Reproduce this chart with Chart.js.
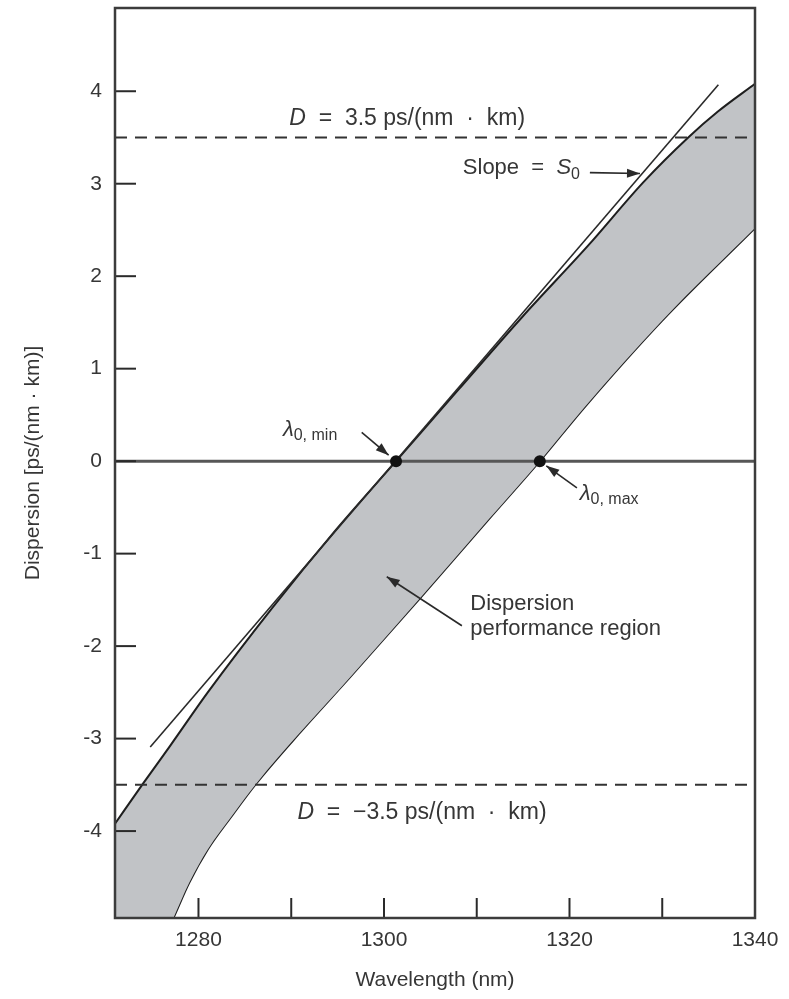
<!DOCTYPE html>
<html>
<head>
<meta charset="utf-8">
<script src="https://cdn.jsdelivr.net/npm/chart.js@4.4.1/dist/chart.umd.min.js"></script>
<style>
  html, body { margin: 0; padding: 0; background: #fff; }
</style>
</head>
<body>
<canvas id="chart" width="789" height="999"></canvas>
<script>
// axis ranges and ticks
const xRange = [1271, 1340];
const yRange = [-4.94, 4.9];
const xTicks = [1280, 1290, 1300, 1310, 1320, 1330, 1340];
const xTickLabels = [1280, 1300, 1320, 1340];
const yTicks = [-4, -3, -2, -1, 0, 1, 2, 3, 4];

// upper edge of the band (lambda0 = min)
const upperLambda = [1271, 1274, 1277, 1281, 1288, 1294.5, 1301.3, 1308, 1315, 1322, 1328, 1332.8, 1336, 1340];
const upperD      = [-3.92, -3.49, -3.07, -2.5, -1.58, -0.78, 0, 0.77, 1.57, 2.33, 3.02, 3.5, 3.78, 4.08];

// lower edge of the band (lambda0 = max)
const lowerLambda = [1271, 1277.3, 1279, 1281, 1283.5, 1286.2, 1291, 1296.4, 1304, 1311.2, 1316.8, 1321.6, 1330, 1340];
const lowerD      = [-6.3, -4.94, -4.56, -4.2, -3.85, -3.49, -2.93, -2.33, -1.47, -0.64, 0, 0.58, 1.52, 2.52];

// tangent "Slope = S0"
const tangentLambda = [1274.8, 1336.05];
const tangentD = [-3.09, 4.07];

// zero-dispersion points
const zeroLambda = [1301.3, 1316.8];

// dispersion limits
const limitD = [3.5, -3.5];

const pts = (xs, ys) => xs.map((x, i) => ({x: x, y: ys[i]}));
const hline = v => [{x: xRange[0], y: v}, {x: xRange[1], y: v}];

const INK = '#2a2a2a';
const TEXT = '#363636';
const FONT = '"Liberation Sans", Arial, sans-serif';

function drawArrow(ctx, x1, y1, x2, y2) {
    ctx.beginPath();
    ctx.moveTo(x1, y1);
    ctx.lineTo(x2, y2);
    ctx.stroke();
    var a = Math.atan2(y2 - y1, x2 - x1);
    var len = 13, w = 4.5;
    ctx.beginPath();
    ctx.moveTo(x2, y2);
    ctx.lineTo(x2 - len * Math.cos(a) + w * Math.sin(a), y2 - len * Math.sin(a) - w * Math.cos(a));
    ctx.lineTo(x2 - len * Math.cos(a) - w * Math.sin(a), y2 - len * Math.sin(a) + w * Math.cos(a));
    ctx.closePath();
    ctx.fill();
}

// draws a run of text pieces, each with its own font and baseline shift
function textRun(ctx, parts, x, y, align) {
    var w = 0;
    parts.forEach(p => { ctx.font = p.f; p.w = ctx.measureText(p.t).width; w += p.w; });
    var cx = align === 'center' ? x - w / 2 : x;
    parts.forEach(p => {
        ctx.font = p.f;
        ctx.fillText(p.t, cx, y + (p.dy || 0));
        cx += p.w;
    });
}

const decorations = {
    id: 'decorations',
    afterDatasetsDraw(chart) {
        const ctx = chart.ctx;
        const a = chart.chartArea;
        const xs = chart.scales.x, ys = chart.scales.y;
        const X = v => xs.getPixelForValue(v);
        const Y = v => ys.getPixelForValue(v);
        ctx.save();

        // inner tick marks
        ctx.strokeStyle = INK;
        ctx.lineWidth = 2;
        xTicks.forEach(v => {
            if (v >= xRange[1]) return;
            ctx.beginPath();
            ctx.moveTo(X(v), a.bottom);
            ctx.lineTo(X(v), a.bottom - 20);
            ctx.stroke();
        });
        yTicks.forEach(v => {
            ctx.beginPath();
            ctx.moveTo(a.left, Y(v));
            ctx.lineTo(a.left + 21, Y(v));
            ctx.stroke();
        });

        // frame
        ctx.strokeStyle = '#3c3c3c';
        ctx.lineWidth = 2.5;
        ctx.strokeRect(a.left, a.top, a.right - a.left, a.bottom - a.top);

        // labels
        ctx.fillStyle = TEXT;
        ctx.textBaseline = 'alphabetic';
        const n = '22px ' + FONT, it = 'italic 22px ' + FONT, sub = '16px ' + FONT;
        const big = '23px ' + FONT, bigIt = 'italic 23px ' + FONT;
        textRun(ctx, [{t: 'D', f: bigIt}, {t: '  =  3.5 ps/(nm  ·  km)', f: big}], X(1302.5), Y(3.64), 'center');
        textRun(ctx, [{t: 'D', f: bigIt}, {t: '  =  −3.5 ps/(nm  ·  km)', f: big}], X(1304.1), Y(-3.87), 'center');
        textRun(ctx, [{t: 'Slope  =  ', f: n}, {t: 'S', f: it}, {t: '0', f: sub, dy: 5}], X(1308.5), Y(3.11), 'left');
        textRun(ctx, [{t: 'λ', f: it}, {t: '0, min', f: sub, dy: 4}], X(1289.1), Y(0.27), 'left');
        textRun(ctx, [{t: 'λ', f: it}, {t: '0, max', f: sub, dy: 4}], X(1321.1), Y(-0.42), 'left');
        textRun(ctx, [{t: 'Dispersion', f: n}], X(1309.3), Y(-1.61), 'left');
        textRun(ctx, [{t: 'performance region', f: n}], X(1309.3), Y(-1.88), 'left');

        // arrows
        ctx.strokeStyle = INK;
        ctx.fillStyle = INK;
        ctx.lineWidth = 1.6;
        drawArrow(ctx, X(1322.2), Y(3.12), X(1327.6), Y(3.11));
        drawArrow(ctx, X(1297.6), Y(0.31), X(1300.5), Y(0.065));
        drawArrow(ctx, X(1320.8), Y(-0.29), X(1317.5), Y(-0.05));
        drawArrow(ctx, X(1308.4), Y(-1.78), X(1300.3), Y(-1.25));
        ctx.restore();
    }
};

const ctx = document.getElementById('chart').getContext('2d');
const chart = new Chart(ctx, {
    type: 'line',
    data: {
        datasets: [
            {
                label: 'zero-dispersion wavelengths',
                data: zeroLambda.map(x => ({x: x, y: 0})),
                showLine: false,
                pointRadius: 6,
                pointBackgroundColor: '#111',
                pointBorderWidth: 0
            },
            {
                label: 'tangent',
                data: pts(tangentLambda, tangentD),
                borderColor: INK,
                borderWidth: 1.6,
                pointRadius: 0
            },
            {
                label: 'upper limit',
                data: hline(limitD[0]),
                borderColor: '#333',
                borderWidth: 2,
                borderDash: [12, 8],
                pointRadius: 0
            },
            {
                label: 'lower limit',
                data: hline(limitD[1]),
                borderColor: '#333',
                borderWidth: 2,
                borderDash: [12, 8],
                pointRadius: 0
            },
            {
                label: 'zero',
                data: hline(0),
                borderColor: '#575757',
                borderWidth: 3,
                pointRadius: 0
            },
            {
                label: 'upper edge',
                data: pts(upperLambda, upperD),
                borderColor: '#1e1e1e',
                borderWidth: 2,
                pointRadius: 0,
                cubicInterpolationMode: 'monotone',
                fill: '+1',
                backgroundColor: 'rgb(193,195,198)'
            },
            {
                label: 'lower edge',
                data: pts(lowerLambda, lowerD),
                borderColor: '#1e1e1e',
                borderWidth: 2,
                pointRadius: 0,
                cubicInterpolationMode: 'monotone',
                fill: false
            }
        ]
    },
    options: {
        responsive: false,
        animation: false,
        devicePixelRatio: 1,
        layout: { padding: { left: 0, right: 34, top: 8, bottom: 0 } },
        plugins: {
            legend: { display: false },
            tooltip: { enabled: false }
        },
        scales: {
            x: {
                type: 'linear',
                min: xRange[0],
                max: xRange[1],
                afterBuildTicks: s => { s.ticks = xTicks.map(v => ({value: v})); },
                afterFit: s => { s.height = 81; s.paddingLeft = 0; s.paddingRight = 0; },
                grid: { display: false, drawTicks: false },
                border: { display: false },
                ticks: {
                    autoSkip: false,
                    maxRotation: 0,
                    padding: 10,
                    color: TEXT,
                    font: { family: FONT, size: 21 },
                    callback: v => xTickLabels.includes(v) ? String(v) : ''
                },
                title: {
                    display: true,
                    text: 'Wavelength (nm)',
                    color: TEXT,
                    font: { family: FONT, size: 21 },
                    padding: { top: 0, bottom: 6 }
                }
            },
            y: {
                min: yRange[0],
                max: yRange[1],
                afterBuildTicks: s => { s.ticks = yTicks.map(v => ({value: v})); },
                afterFit: s => { s.width = 115; s.paddingTop = 0; s.paddingBottom = 0; },
                grid: { display: false, drawTicks: false },
                border: { display: false },
                ticks: {
                    padding: 13,
                    color: TEXT,
                    font: { family: FONT, size: 21 }
                },
                title: {
                    display: true,
                    text: 'Dispersion [ps/(nm · km)]',
                    color: TEXT,
                    font: { family: FONT, size: 21 },
                    padding: { top: 21, bottom: 0 }
                }
            }
        }
    },
    plugins: [decorations]
});
</script>
</body>
</html>
